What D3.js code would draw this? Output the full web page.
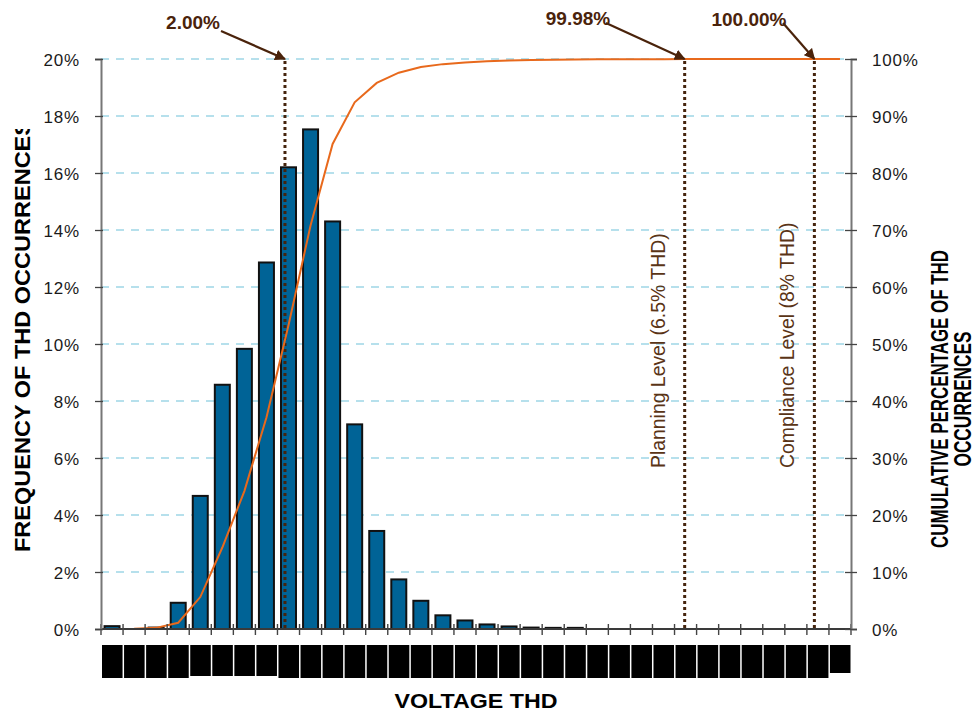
<!DOCTYPE html>
<html>
<head>
<meta charset="utf-8">
<script src="https://cdn.jsdelivr.net/npm/d3@7"></script>
<style>
  html, body { margin: 0; padding: 0; background: #fff; }
  svg { display: block; }
</style>
</head>
<body>
<svg id="chart" width="980" height="715"></svg>
<script>
// THD bins (upper edge of each 0.25% bin)
const categories = ["0.25","0.50","0.75","1.00","1.25","1.50","1.75","2.00","2.25","2.50",
  "2.75","3.00","3.25","3.50","3.75","4.00","4.25","4.50","4.75","5.00",
  "5.25","5.50","5.75","6.00","6.25","6.50","6.75","7.00","7.25","7.50",
  "7.75","8.00","8.25","8.50"];

// Frequency of THD occurrences per bin (%)
const frequency = [0.10, 0.00, 0.05, 0.92, 4.67, 8.57, 9.83, 12.86, 16.20, 17.53,
  14.30, 7.18, 3.44, 1.74, 0.99, 0.48, 0.30, 0.16, 0.09, 0.05,
  0.04, 0.04, 0.00, 0.00, 0.00, 0.00, 0.00, 0.00, 0.00, 0.00,
  0.00, 0.00, 0.00, 0.00];

// Cumulative percentage of THD occurrences (%)
const cumulative = [0.0, 0.05, 0.2, 1.1, 5.6, 14.3, 24.2, 37.1, 53.3, 70.8,
  85.1, 92.4, 95.8, 97.6, 98.6, 99.1, 99.4, 99.6, 99.75, 99.82,
  99.88, 99.92, 99.94, 99.95, 99.96, 99.97, 99.98, 99.98, 99.99, 99.99,
  99.99, 100, 100, 100];

// Left axis ticks (frequency %) and right axis ticks (cumulative %)
const leftTicks = [0, 2, 4, 6, 8, 10, 12, 14, 16, 18, 20];
const rightTicks = [0, 10, 20, 30, 40, 50, 60, 70, 80, 90, 100];

// Reference lines on the THD axis (THD %), with their callouts
const markerThd = [1.96, 6.49, 7.96];
const markerCallouts = ["2.00%", "99.98%", "100.00%"];
const levelLabels = [null, "Planning Level (6.5% THD)", "Compliance Level (8% THD)"];

const svg = d3.select("#chart");
const L = 101, R = 851, T = 59, B = 629;

const x = d3.scaleBand().domain(categories).range([L, R])
  .paddingInner(0.32).paddingOuter(0.16);
const step = x.step();
const yL = d3.scaleLinear().domain([0, 20]).range([B, T]);
const yR = d3.scaleLinear().domain([0, 100]).range([B, T]);
// continuous THD position: bin i is centred on 0.25*i
const thdX = d3.scaleLinear().domain([-0.125, 8.375]).range([L, R]);

const brown = "#4a230b";
const titleFont = "Liberation Sans, Arial, sans-serif";

const defs = svg.append("defs");

// gridlines
svg.append("g").selectAll("line").data(leftTicks.filter(d => d > 0)).join("line")
  .attr("x1", L).attr("x2", R)
  .attr("y1", d => yL(d)).attr("y2", d => yL(d))
  .attr("stroke", "#9fd6e6").attr("stroke-width", 1.3)
  .attr("stroke-dasharray", "8,7");

// bars
svg.append("g").selectAll("rect").data(categories).join("rect")
  .attr("x", d => x(d))
  .attr("width", x.bandwidth())
  .attr("y", (d, i) => yL(frequency[i]))
  .attr("height", (d, i) => B - yL(frequency[i]))
  .attr("fill", (d, i) => frequency[i] > 0 ? "#006396" : "none")
  .attr("stroke", (d, i) => frequency[i] > 0 ? "#111" : "none")
  .attr("stroke-width", 2);

// reference dotted lines
svg.append("g").selectAll("line").data(markerThd).join("line")
  .attr("x1", d => thdX(d)).attr("x2", d => thdX(d))
  .attr("y1", yR(100) + 2).attr("y2", B)
  .attr("stroke", "#45240d").attr("stroke-width", 3)
  .attr("stroke-dasharray", "3,3");

// cumulative line
const line = d3.line()
  .x((d, i) => x(categories[i]) + x.bandwidth() / 2)
  .y(d => yR(d));
svg.append("path").datum(cumulative)
  .attr("d", line)
  .attr("fill", "none")
  .attr("stroke", "#e8691c")
  .attr("stroke-width", 2);

// x axis with ticks at bin boundaries
const xAxis = svg.append("g");
xAxis.append("line").attr("x1", L).attr("x2", R).attr("y1", B).attr("y2", B)
  .attr("stroke", "#3a3a3a").attr("stroke-width", 2.2);
const bounds = categories.map(c => x(c) - step * 0.16).concat([R]);
xAxis.selectAll("line.tick").data(bounds).join("line").attr("class", "tick")
  .attr("x1", d => d).attr("x2", d => d).attr("y1", B - 5).attr("y2", B + 6)
  .attr("stroke", "#444").attr("stroke-width", 1.4);

// redacted category labels
svg.append("g").selectAll("rect").data(categories).join("rect")
  .attr("x", d => x(d) - step * 0.16 + 1)
  .attr("width", step - 1.5)
  .attr("y", 645)
  .attr("height", (d, i) => i === categories.length - 1 ? 28 : (i >= 4 && i <= 7 ? 31 : 33))
  .attr("fill", "#000");

// left axis
const gl = svg.append("g").attr("transform", `translate(${L},0)`)
  .call(d3.axisLeft(yL).tickValues(leftTicks).tickFormat(d => d + "%").tickSize(6).tickPadding(15));
gl.select(".domain").attr("stroke", "#777").attr("stroke-width", 2);
gl.selectAll(".tick line").attr("x1", 2).attr("stroke", "#444").attr("stroke-width", 1.3);
gl.selectAll(".tick text").attr("font-family", titleFont)
  .attr("font-size", 17).attr("letter-spacing", "0.8px").attr("fill", "#1a1a1a").attr("dy", "0.36em");

// right axis
const gr = svg.append("g").attr("transform", `translate(${R},0)`)
  .call(d3.axisRight(yR).tickValues(rightTicks).tickFormat(d => d + "%").tickSize(6).tickPadding(15));
gr.select(".domain").attr("stroke", "#777").attr("stroke-width", 2);
gr.selectAll(".tick line").attr("x1", -6).attr("stroke", "#444").attr("stroke-width", 1.3);
gr.selectAll(".tick text").attr("font-family", titleFont)
  .attr("font-size", 17).attr("letter-spacing", "0.8px").attr("fill", "#1a1a1a").attr("dy", "0.36em");

// axis titles
svg.append("text").attr("x", 476).attr("y", 708).attr("text-anchor", "middle")
  .attr("font-family", titleFont).attr("font-weight", "bold").attr("font-size", 21)
  .attr("textLength", 163).attr("lengthAdjust", "spacingAndGlyphs")
  .text("VOLTAGE THD");

// the left title's box cuts off the end of the string
defs.append("clipPath").attr("id", "leftTitleClip")
  .append("rect").attr("x", 0).attr("y", 129).attr("width", 60).attr("height", 500);
svg.append("g").attr("clip-path", "url(#leftTitleClip)")
  .append("text")
  .attr("transform", "translate(30,552) rotate(-90)")
  .attr("font-family", titleFont).attr("font-weight", "bold").attr("font-size", 22)
  .attr("textLength", 432).attr("lengthAdjust", "spacingAndGlyphs")
  .text("FREQUENCY OF THD OCCURRENCES");

svg.append("text").attr("transform", "translate(948,399) rotate(-90)")
  .attr("text-anchor", "middle")
  .attr("font-family", titleFont).attr("font-weight", "bold").attr("font-size", 23)
  .attr("textLength", 298).attr("lengthAdjust", "spacingAndGlyphs")
  .text("CUMULATIVE PERCENTAGE OF THD");
svg.append("text").attr("transform", "translate(971,399) rotate(-90)")
  .attr("text-anchor", "middle")
  .attr("font-family", titleFont).attr("font-weight", "bold").attr("font-size", 23)
  .attr("textLength", 135).attr("lengthAdjust", "spacingAndGlyphs")
  .text("OCCURRENCES");

// level labels beside the reference lines
svg.append("g").selectAll("text").data(markerThd).join("text")
  .filter((d, i) => levelLabels[i])
  .attr("transform", d => `translate(${thdX(d) - 20},468) rotate(-90)`)
  .attr("font-family", titleFont).attr("font-size", 19.4)
  .attr("fill", "#5a3416")
  .text((d, i) => levelLabels[i + 1]);

// callouts with arrows
defs.append("marker").attr("id", "arrowHead")
  .attr("viewBox", "0 0 10 10").attr("refX", 9).attr("refY", 5)
  .attr("markerWidth", 5).attr("markerHeight", 5).attr("orient", "auto")
  .append("path").attr("d", "M0,0 L10,5 L0,10 z").attr("fill", brown);

const calloutText = [[193, 29], [578, 25], [749, 26]];
const calloutStart = [[221, 31], [606, 23], [783, 23]];
svg.append("g").selectAll("text").data(markerCallouts).join("text")
  .attr("x", (d, i) => calloutText[i][0]).attr("y", (d, i) => calloutText[i][1])
  .attr("text-anchor", "middle")
  .attr("font-family", titleFont).attr("font-weight", "bold").attr("font-size", 19)
  .attr("fill", brown).text(d => d);
svg.append("g").selectAll("line").data(markerThd).join("line")
  .attr("x1", (d, i) => calloutStart[i][0]).attr("y1", (d, i) => calloutStart[i][1])
  .attr("x2", d => thdX(d)).attr("y2", yR(100))
  .attr("stroke", brown).attr("stroke-width", 2.2)
  .attr("marker-end", "url(#arrowHead)");
</script>
</body>
</html>
